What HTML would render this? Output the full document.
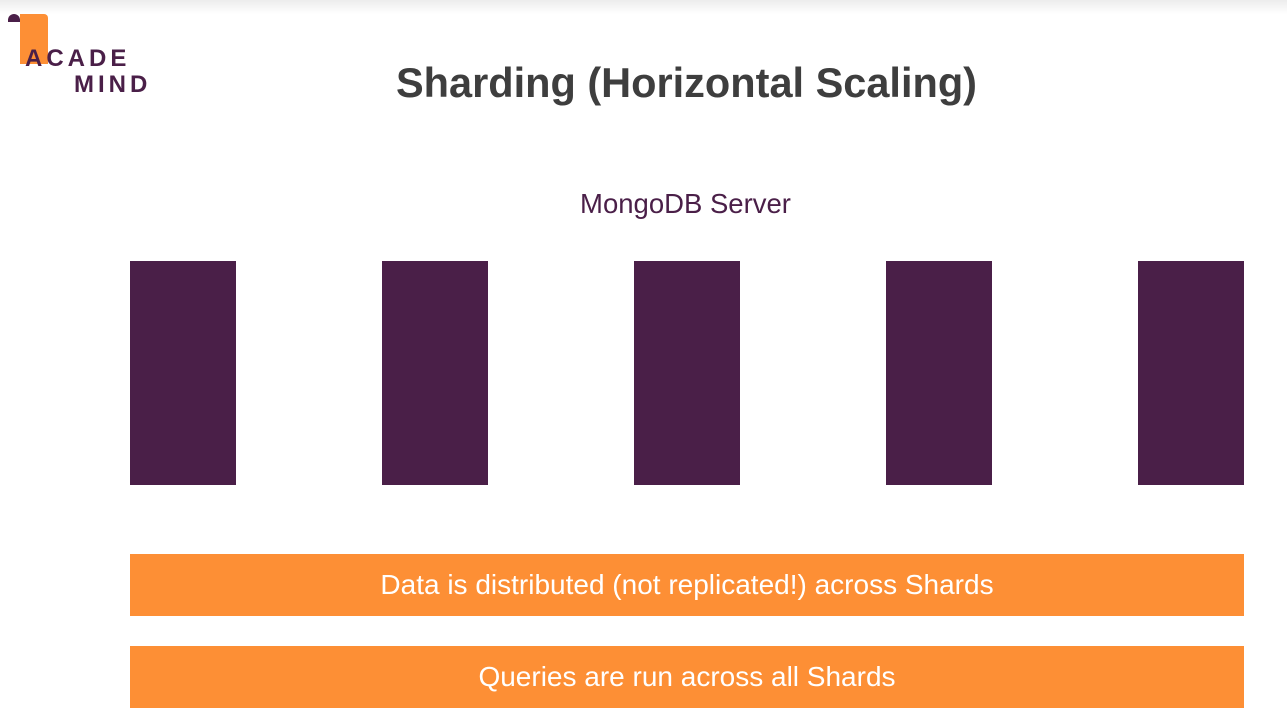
<!DOCTYPE html>
<html><head><meta charset="utf-8"><style>
body{margin:0;width:1287px;height:718px;background:#fff;position:relative;overflow:hidden;font-family:"Liberation Sans",sans-serif}
.bar{position:absolute;background:#4a1f48;top:261px;width:106px;height:224px}
.ob{position:absolute;left:130px;width:1114px;height:62px;background:#fd8f35;color:#fff;font-size:28px;text-align:center;line-height:62px}
</style></head><body>
<div style="position:absolute;left:0;top:0;width:1287px;height:14px;background:linear-gradient(#ececec,#fff)"></div>
<div style="position:absolute;left:8px;top:14px;width:12px;height:8px;background:#4a1f48;border-radius:6px 6px 0 0"></div>
<div style="position:absolute;left:20px;top:14px;width:28px;height:50px;background:#fd8f35;border-radius:0 4px 0 0"></div>
<div style="position:absolute;left:25px;top:45px;font-weight:bold;font-size:24px;color:#4a1f48;letter-spacing:4px">ACADE</div>
<div style="position:absolute;left:74px;top:71px;font-weight:bold;font-size:24px;color:#4a1f48;letter-spacing:4px">MIND</div>
<div style="position:absolute;left:0;width:1373px;top:59px;text-align:center;font-size:41.5px;font-weight:bold;color:#3e3e3e">Sharding (Horizontal Scaling)</div>
<div style="position:absolute;left:0;width:1371px;top:188px;text-align:center;font-size:27.5px;color:#4a1f48">MongoDB Server</div>
<div class="bar" style="left:130px"></div>
<div class="bar" style="left:382px"></div>
<div class="bar" style="left:634px"></div>
<div class="bar" style="left:886px"></div>
<div class="bar" style="left:1138px"></div>
<div class="ob" style="top:554px">Data is distributed (not replicated!) across Shards</div>
<div class="ob" style="top:646px">Queries are run across all Shards</div>
</body></html>
